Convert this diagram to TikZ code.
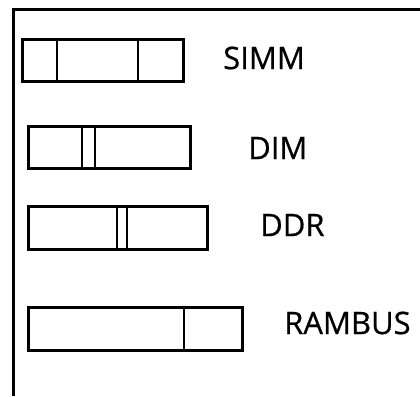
\documentclass[tikz,border=0pt]{standalone}
\usepackage{fontspec}
\setmainfont{Open Sans}
\begin{document}
\begin{tikzpicture}[x=1pt,y=-1pt,
  slot/.style={draw, line width=3.4pt, inner sep=0, outer sep=0, rectangle},
  divider/.style={line width=1.4pt},
  label/.style={font=\fontsize{31}{36}\selectfont\addfontfeature{FakeBold=0.6}, inner sep=0, anchor=west}]
\useasboundingbox (0,0) rectangle (420,396);
% frame along the top and left
\draw[line width=3pt] (13,396) -- (13,10) -- (420,10);

% memory modules
\node (simm) [slot, minimum width=161, minimum height=42] at (103,60.5) {};
\node (dim) [slot, minimum width=162, minimum height=42] at (109.5,147.5) {};
\node (ddr) [slot, minimum width=179, minimum height=43] at (118,228) {};
\node (rambus) [slot, minimum width=214, minimum height=43] at (135.5,329) {};

% notches
\draw[divider] ([xshift=34.5]simm.north west) -- ([xshift=34.5]simm.south west);
\draw[divider] ([xshift=115.5]simm.north west) -- ([xshift=115.5]simm.south west);
\draw[divider] ([xshift=53.5]dim.north west) -- ([xshift=53.5]dim.south west);
\draw[divider] ([xshift=66.5]dim.north west) -- ([xshift=66.5]dim.south west);
\draw[divider] ([xshift=88.5]ddr.north west) -- ([xshift=88.5]ddr.south west);
\draw[divider] ([xshift=98.5]ddr.north west) -- ([xshift=98.5]ddr.south west);
\draw[divider] ([xshift=155.5]rambus.north west) -- ([xshift=155.5]rambus.south west);

% names
\node (simmtext) [label] at (223,58) {SIMM};
\node (dimtext) [label] at (248,148) {DIM};
\node (ddrtext) [label] at (260,225) {DDR};
\node (rambustext) [label] at (284,323) {RAMBUS};
\end{tikzpicture}
\end{document}
